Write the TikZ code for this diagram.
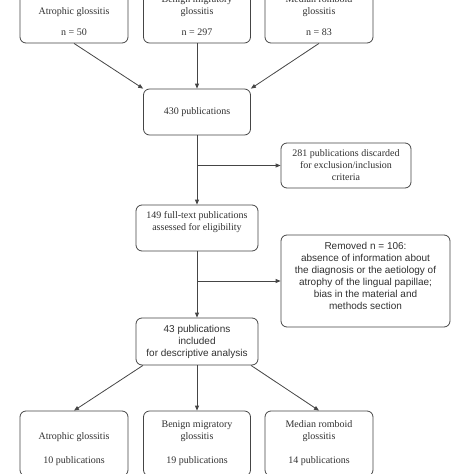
\documentclass[tikz,border=0pt]{standalone}
\usepackage{fontspec}
\setmainfont{Liberation Serif}
\newfontfamily\arialfont{Liberation Sans}
\usetikzlibrary{arrows.meta}
\definecolor{linegray}{HTML}{454545}
\definecolor{textgray}{HTML}{303030}
\begin{document}
\begin{tikzpicture}[x=1pt,y=-1pt,
  box/.style={draw=linegray, line width=0.8pt, rounded corners=6pt, align=center,
    text=textgray, inner sep=0pt, font=\fontsize{10}{12}\selectfont},
  sbox/.style={box, font=\arialfont\fontsize{10}{12}\selectfont},
  arr/.style={draw=linegray, line width=0.8pt, -{Triangle[length=5pt,width=4pt]}},
  ln/.style={draw=linegray, line width=0.8pt}]
\useasboundingbox (0,0) rectangle (474,474);
% top row
\node[box, minimum width=108pt, minimum height=55pt] (t1) at (74,15.5)
  {\vphantom{Ag}\\Atrophic glossitis\\[9pt]n = 50};
\node[box, minimum width=107pt, minimum height=55pt] (t2) at (197,15.5)
  {Benign migratory\\glossitis\\[9pt]n = 297};
\node[box, minimum width=108pt, minimum height=55pt] (t3) at (319,15.5)
  {Median romboid\\glossitis\\[9pt]n = 83};
% middle column
\node[box, minimum width=107pt, minimum height=46pt] (p430) at (197,112) {430 publications};
\node[box, minimum width=130pt, minimum height=45pt] (d281) at (346,165.5)
  {281 publications discarded\\for exclusion/inclusion\\criteria};
\node[box, minimum width=122pt, minimum height=46pt] (p149) at (197,228)
  {149 full-text publications\\assessed for eligibility\\\vphantom{Ag}};
\node[sbox, minimum width=169pt, minimum height=92pt] (rem) at (365.5,281)
  {Removed n = 106:\\absence of information about\\the diagnosis or the aetiology of\\atrophy of the lingual papillae;\\bias in the material and\\methods section\\[-4pt]\vphantom{Ag}};
\node[sbox, minimum width=122pt, minimum height=47pt] (p43) at (197,341.5)
  {43 publications\\included\\for descriptive analysis};
% bottom row
\node[box, minimum width=108pt, minimum height=65pt] (b1) at (74,443.5)
  {\vphantom{Ag}\\Atrophic glossitis\\[12pt]10 publications};
\node[box, minimum width=107pt, minimum height=65pt] (b2) at (197,443.5)
  {Benign migratory\\glossitis\\[12pt]19 publications};
\node[box, minimum width=108pt, minimum height=65pt] (b3) at (319,443.5)
  {Median romboid\\glossitis\\[12pt]14 publications};
% connectors
\draw[arr] (t1.south) -- (p430.north west);
\draw[arr] (t2.south) -- (p430.north);
\draw[arr] (t3.south) -- (p430.north east);
\draw[arr] (p430.south) -- (p149.north);
\coordinate (j1) at (p430.south |- d281.west);
\draw[arr] (j1) -- (d281.west);
\draw[arr] (p149.south) -- (p43.north);
\coordinate (j2) at (p149.south |- rem.west);
\draw[arr] (j2) -- (rem.west);
\draw[arr] ([xshift=-54pt]p43.south) -- (b1.north);
\draw[arr] (p43.south) -- (b2.north);
\draw[arr] ([xshift=54pt]p43.south) -- (b3.north);
\end{tikzpicture}
\end{document}
